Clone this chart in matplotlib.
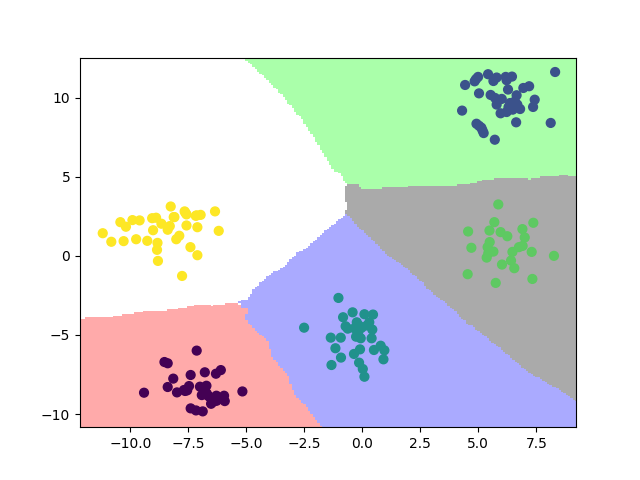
import numpy as np
import matplotlib
matplotlib.use("Agg")
import matplotlib.pyplot as plt
from matplotlib.colors import ListedColormap

# points, one pair of lists per class
# (the last few of classes 0, 1, 2, 4 sit hidden under others in the dense parts)
x0 = [-7.14, -8.53, -8.39, -8.15, -7.40, -6.79, -6.31, -6.10, -8.39, -9.41, -7.99, -7.64, -7.47, -7.69, -7.00,
      -6.72, -6.92, -6.71, -6.49, -6.29, -5.96, -5.93, -6.52, -6.28, -5.17, -7.40, -7.17, -6.88, -6.68, -6.42,
      -6.60, -6.40, -6.20, -6.80, -7.55]
y0 = [-5.99, -6.71, -6.79, -7.76, -7.53, -7.36, -7.45, -7.22, -8.29, -8.65, -8.63, -8.54, -8.23, -8.48, -8.27,
      -8.21, -8.80, -8.69, -9.01, -8.84, -8.84, -9.18, -9.35, -9.16, -8.57, -9.64, -9.77, -9.83, -8.80, -9.22,
      -8.90, -9.10, -9.00, -8.50, -8.50]

x1 = [8.31, 4.43, 4.84, 4.99, 5.42, 5.65, 5.79, 6.18, 6.45, 6.22, 6.28, 6.94, 7.19, 5.03, 5.53, 5.72, 6.01, 6.65,
      7.43, 7.36, 4.30, 5.79, 6.37, 6.80, 5.96, 6.22, 6.48, 6.63, 8.12, 4.92, 5.13, 5.23, 5.71, 6.68, 6.58,
      5.03, 5.18, 4.90, 6.30]
y1 = [11.62, 10.80, 11.03, 11.31, 11.48, 11.05, 11.27, 11.31, 11.33, 11.10, 10.51, 10.61, 10.72, 10.27, 10.17, 9.98,
      9.92, 10.15, 9.87, 9.41, 9.18, 9.56, 9.66, 9.28, 9.01, 9.09, 9.24, 8.44, 8.40, 8.35, 8.10, 7.76, 7.34, 9.56, 9.77,
      8.22, 7.93, 11.17, 9.40]

x2 = [-1.03, -2.51, -0.42, -0.83, 0.09, 0.46, -0.24, 0.30, -0.72, -0.63, -0.03, -0.34, 0.43, -1.36, -0.93, -0.27,
      -0.07, 0.40, -1.16, 0.79, 0.50, 0.95, -0.10, -0.36, -0.92, 0.91, -1.33, -0.14, 0.02, 0.09, -0.17,
      -0.15, -0.20, 0.20]
y2 = [-2.66, -4.54, -3.57, -3.88, -3.69, -3.71, -4.20, -4.20, -4.45, -4.60, -4.54, -4.58, -4.66, -5.17, -5.17, -5.11,
      -5.21, -5.21, -5.84, -5.68, -5.95, -5.97, -5.91, -6.20, -6.43, -6.54, -6.90, -6.75, -7.15, -7.64, -4.79,
      -4.40, -5.00, -4.40]

x3 = [5.86, 5.69, 7.37, 4.56, 5.48, 5.96, 6.25, 6.90, 7.00, 5.49, 4.70, 5.40, 5.65, 5.43, 5.36, 6.47, 6.75, 6.91,
      7.30, 8.26, 6.41, 6.02, 6.55, 4.54, 5.75, 7.33]
y3 = [3.25, 2.13, 2.09, 1.54, 1.60, 1.50, 1.24, 1.69, 1.16, 0.87, 0.51, 0.55, 0.27, 0.17, -0.11, 0.25, 0.55, 0.63,
      0.25, 0.00, -0.30, -0.55, -0.78, -1.16, -1.71, -1.46]

x4 = [-11.19, -10.82, -10.29, -9.75, -9.27, -8.83, -8.85, -8.81, -7.77, -7.11, -7.41, -8.02, -7.89, -9.02, -8.39,
      -8.30, -8.66, -10.19, -10.43, -9.91, -9.60, -9.06, -8.89, -8.26, -8.13, -7.66, -7.58, -7.58, -7.11, -7.18,
      -6.97, -6.35, -6.19, -7.62, -7.14, -8.10]
y4 = [1.43, 0.89, 0.93, 1.05, 0.95, 0.82, 0.38, -0.32, -1.27, 0.04, 0.55, 1.05, 1.27, 1.62, 1.65, 1.88, 2.03, 1.84,
      2.13, 2.26, 2.24, 2.38, 2.41, 3.12, 2.45, 2.81, 2.62, 1.92, 1.81, 2.53, 2.59, 2.81, 1.58, 2.71, 2.56, 2.45]

n_neighbors = 10
h = 0.1


def predict_knn(points, labels, grid, k):
    out = np.zeros(len(grid), dtype=int)
    for i, p in enumerate(grid):
        d = ((points - p) ** 2).sum(axis=1)
        nearest = labels[np.argsort(d)[:k]]
        out[i] = np.bincount(nearest, minlength=5).argmax()
    return out


xs = [x0, x1, x2, x3, x4]
ys = [y0, y1, y2, y3, y4]
X = np.array([v for part in xs for v in part])
Y = np.array([v for part in ys for v in part])
labels = np.concatenate([np.full(len(part), i) for i, part in enumerate(xs)])
points = np.column_stack([X, Y])

x_min, x_max = X.min() - 1, X.max() + 1
y_min, y_max = Y.min() - 1, Y.max() + 1
xx, yy = np.meshgrid(np.arange(x_min, x_max, h), np.arange(y_min, y_max, h))
Z = predict_knn(points, labels, np.column_stack([xx.ravel(), yy.ravel()]), n_neighbors)
Z = Z.reshape(xx.shape)

cmap_light = ListedColormap(["#FFAAAA", "#AAFFAA", "#AAAAFF", "#AAAAAA", "#FFFFFF"])

plt.figure(figsize=(6.4, 4.8), dpi=100)
plt.pcolormesh(xx, yy, Z, cmap=cmap_light, vmin=0, vmax=4, shading="nearest")
plt.scatter(X, Y, c=labels, cmap="viridis", s=40)
plt.xlim(-12.17, 9.21)
plt.ylim(-10.83, 12.53)
plt.savefig("out.png", dpi=100)
